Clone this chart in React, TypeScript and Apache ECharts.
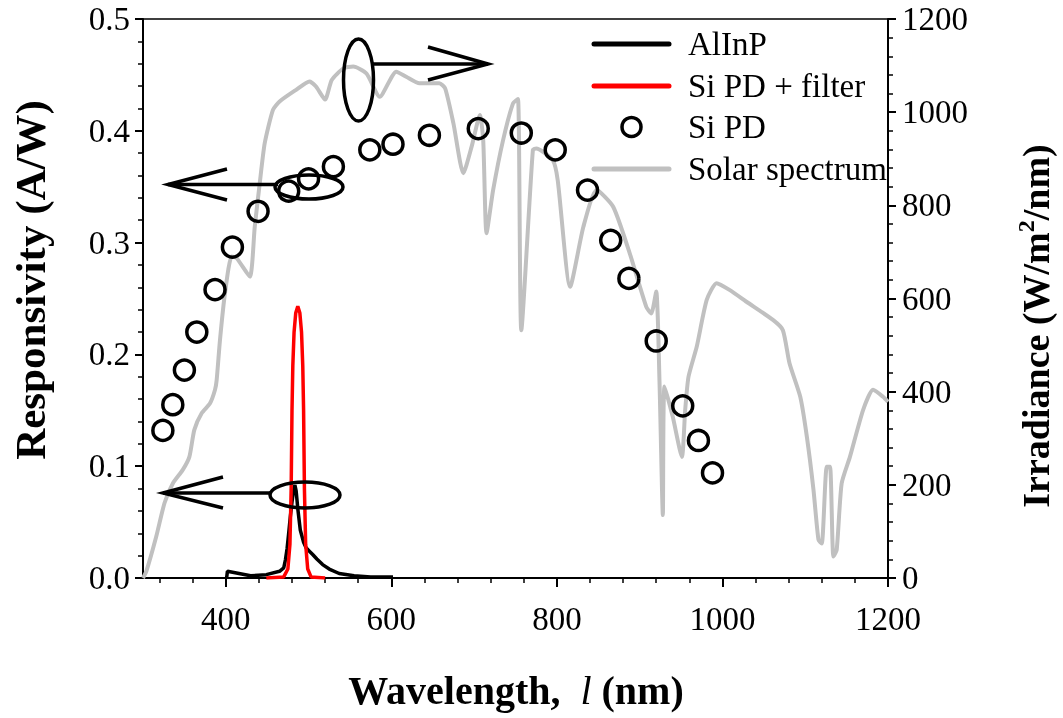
import React, { useEffect, useRef } from "react";
import * as echarts from "echarts";

const FONT = '"Liberation Serif", "Times New Roman", Times, serif';

// X axis ticks (nm)
const xMajorTicks = [400, 600, 800, 1000, 1200];
const xMinorTicks = [320, 360, 440, 480, 520, 560, 640, 680, 720, 760, 840, 880, 920, 960, 1040, 1080, 1120, 1160];

// AlInP responsivity (A/W)
const alinpWl = [401, 402, 430, 449, 465, 470, 472, 474, 476, 478, 480, 482, 483.5, 485, 487, 490, 494, 497, 501, 505, 510, 517, 525, 537, 555, 575, 602];
const alinpR = [0.0, 0.006, 0.002, 0.003, 0.006, 0.009, 0.016, 0.026, 0.04, 0.055, 0.068, 0.079, 0.083, 0.078, 0.062, 0.043, 0.032, 0.027, 0.024, 0.021, 0.017, 0.012, 0.008, 0.004, 0.002, 0.001, 0.001];

// Si PD + filter responsivity (A/W)
const filterWl = [449, 470, 475, 477.5, 479, 480, 481, 482.5, 484.5, 487, 489.5, 491.5, 493, 494, 495, 496.5, 499, 503, 520];
const filterR = [0.0, 0.001, 0.008, 0.03, 0.08, 0.15, 0.19, 0.22, 0.237, 0.243, 0.237, 0.22, 0.19, 0.15, 0.08, 0.03, 0.008, 0.001, 0.0];

// Si PD responsivity (A/W)
const siWl = [324, 336, 350, 365, 387, 408, 439, 476, 500, 530, 574, 602, 646, 705, 757, 798, 837, 865, 887, 920, 952, 971, 988];
const siR = [0.132, 0.155, 0.186, 0.220, 0.258, 0.296, 0.328, 0.346, 0.357, 0.368, 0.383, 0.388, 0.396, 0.402, 0.398, 0.383, 0.347, 0.302, 0.268, 0.212, 0.154, 0.123, 0.094];

// Solar spectrum irradiance (W/m^2/nm)
const solarWl = [300, 304, 316, 326, 336, 348, 356, 362, 371, 381, 387, 389, 393, 399, 407, 413, 429, 435, 441, 447, 457, 465, 485, 501, 509, 520, 528, 542, 554, 570, 586, 606, 618, 634, 658, 665, 675, 687, 697, 707, 711, 715, 723, 735, 747, 753, 757, 771, 775, 795, 801, 816, 832, 848, 868, 888, 908, 914, 920, 924, 928, 930, 940, 951, 955, 959, 969, 981, 993, 1009, 1029, 1061, 1073, 1081, 1094, 1102, 1110, 1116, 1120, 1126, 1130, 1134, 1138, 1144, 1154, 1170, 1182, 1194, 1200];
const solarIrr = [0, 14, 89, 161, 203, 232, 260, 318, 354, 375, 404, 425, 511, 611, 690, 687, 647, 754, 847, 933, 1005, 1023, 1048, 1066, 1055, 1027, 1069, 1094, 1098, 1083, 1033, 1087, 1076, 1062, 1062, 1051, 976, 869, 926, 994, 940, 740, 833, 940, 1019, 1028, 532, 919, 922, 897, 854, 625, 754, 833, 797, 697, 582, 568, 615, 419, 135, 411, 346, 260, 361, 432, 497, 597, 633, 618, 593, 554, 532, 461, 389, 303, 189, 82, 74, 239, 239, 46, 60, 203, 260, 361, 404, 389, 378];

const seriesNames = ["AlInP", "Si PD + filter", "Si PD", "Solar spectrum"];
const seriesColors = ["#000000", "#ff0000", "#000000", "#c0c0c0"];

const zip = (a: number[], b: number[]) => a.map((v, i) => [v, b[i]]);

export default function App() {
  const ref = useRef<HTMLDivElement>(null);
  useEffect(() => {
    if (!ref.current) return;
    const chart = echarts.init(ref.current, undefined, { renderer: "svg" });
    const axisLine = { show: true, onZero: false, lineStyle: { color: "#000", width: 2 } };
    const labelStyle = { color: "#000", fontFamily: FONT, fontSize: 33 };
    const stroke = { stroke: "#000", lineWidth: 3.5, fill: "none" };

    const legendY = [44, 86, 127, 169];
    const legendGraphics: any[] = [];
    seriesNames.forEach((name, i) => {
      if (i === 2) {
        legendGraphics.push({
          type: "circle",
          shape: { cx: 631.5, cy: legendY[i], r: 9.5 },
          style: { fill: "none", stroke: seriesColors[i], lineWidth: 3.5 },
        });
      } else {
        legendGraphics.push({
          type: "line",
          shape: { x1: 594, y1: legendY[i], x2: 669, y2: legendY[i] },
          style: { stroke: seriesColors[i], lineWidth: 5, lineCap: "round" },
        });
      }
      legendGraphics.push({
        type: "text",
        x: 688,
        y: legendY[i],
        style: { text: name, fill: "#000", font: `33px ${FONT}`, textAlign: "left", textVerticalAlign: "middle" },
      });
    });

    chart.setOption({
      animation: false,
      grid: { left: 143, right: 175, top: 19, bottom: 140, containLabel: false },
      xAxis: [
        {
          type: "value",
          min: 300,
          max: 1200,
          position: "bottom",
          axisLine,
          axisTick: { show: true, customValues: xMajorTicks, length: 9, lineStyle: { color: "#000", width: 2 } },
          axisLabel: { ...labelStyle, customValues: xMajorTicks, margin: 24, formatter: (v: number) => String(v) },
          splitLine: { show: false },
        },
        {
          type: "value",
          min: 300,
          max: 1200,
          position: "bottom",
          axisLine: { show: false },
          axisTick: { show: true, customValues: xMinorTicks, length: 5, lineStyle: { color: "#000", width: 1.5 } },
          axisLabel: { show: false },
          splitLine: { show: false },
        },
        {
          type: "value",
          min: 300,
          max: 1200,
          position: "top",
          axisLine: { show: true, onZero: false, lineStyle: { color: "#000", width: 1.5 } },
          axisTick: { show: false },
          axisLabel: { show: false },
          splitLine: { show: false },
        },
      ],
      yAxis: [
        {
          type: "value",
          min: 0,
          max: 0.5,
          interval: 0.1,
          position: "left",
          axisLine,
          axisTick: { show: true, length: 8, lineStyle: { color: "#000", width: 2 } },
          minorTick: { show: true, splitNumber: 5, length: 5, lineStyle: { color: "#000", width: 1.5 } },
          axisLabel: { ...labelStyle, margin: 13, formatter: (v: number) => v.toFixed(1) },
          splitLine: { show: false },
        },
        {
          type: "value",
          min: 0,
          max: 1200,
          interval: 200,
          position: "right",
          axisLine,
          axisTick: { show: true, length: 8, lineStyle: { color: "#000", width: 2 } },
          minorTick: { show: true, splitNumber: 5, length: 5, lineStyle: { color: "#000", width: 1.5 } },
          axisLabel: { ...labelStyle, margin: 14, formatter: (v: number) => String(v) },
          splitLine: { show: false },
        },
      ],
      series: [
        {
          name: seriesNames[3],
          type: "line",
          xAxisIndex: 0,
          yAxisIndex: 1,
          data: zip(solarWl, solarIrr),
          showSymbol: false,
          symbol: "none",
          smooth: 0.2,
          lineStyle: { color: seriesColors[3], width: 4 },
          z: 2,
        },
        {
          name: seriesNames[0],
          type: "line",
          xAxisIndex: 0,
          yAxisIndex: 0,
          data: zip(alinpWl, alinpR),
          showSymbol: false,
          symbol: "none",
          lineStyle: { color: seriesColors[0], width: 3.5 },
          z: 3,
        },
        {
          name: seriesNames[1],
          type: "line",
          xAxisIndex: 0,
          yAxisIndex: 0,
          data: zip(filterWl, filterR),
          showSymbol: false,
          symbol: "none",
          lineStyle: { color: seriesColors[1], width: 3.5 },
          z: 4,
        },
        {
          name: seriesNames[2],
          type: "scatter",
          xAxisIndex: 0,
          yAxisIndex: 0,
          data: zip(siWl, siR),
          symbol: "circle",
          symbolSize: 20,
          itemStyle: { color: "rgba(0,0,0,0)", borderColor: "#000", borderWidth: 3.5, opacity: 1 },
          z: 5,
        },
      ],
      graphic: [
        // annotations
        { type: "ellipse", shape: { cx: 309, cy: 187, rx: 34, ry: 12 }, style: stroke, z: 10 },
        { type: "line", shape: { x1: 278, y1: 184.5, x2: 168, y2: 184.5 }, style: stroke, z: 10 },
        { type: "polyline", shape: { points: [[227, 169], [168, 184.5], [227, 200]] }, style: stroke, z: 10 },
        { type: "ellipse", shape: { cx: 305, cy: 495, rx: 35, ry: 13 }, style: stroke, z: 10 },
        { type: "line", shape: { x1: 270, y1: 493, x2: 163, y2: 493 }, style: stroke, z: 10 },
        { type: "polyline", shape: { points: [[223, 477], [163, 493], [223, 508]] }, style: stroke, z: 10 },
        { type: "ellipse", shape: { cx: 358.5, cy: 80, rx: 15, ry: 41 }, style: stroke, z: 10 },
        { type: "line", shape: { x1: 373, y1: 64, x2: 488, y2: 64 }, style: stroke, z: 10 },
        { type: "polyline", shape: { points: [[428, 47], [488, 64], [428, 80]] }, style: stroke, z: 10 },
        ...legendGraphics,
        // axis titles
        {
          type: "text",
          x: 516,
          y: 690,
          style: {
            text: "{b|Wavelength,  }{i|l}{b| (nm)}",
            textAlign: "center",
            textVerticalAlign: "middle",
            rich: {
              b: { fontFamily: FONT, fontWeight: "bold", fontSize: 40, fill: "#000" },
              i: { fontFamily: FONT, fontStyle: "italic", fontSize: 40, fill: "#000" },
            },
          },
        },
        {
          type: "text",
          x: 30,
          y: 280,
          rotation: Math.PI / 2,
          style: {
            text: "Responsivity (A/W)",
            fill: "#000",
            font: `bold 43px ${FONT}`,
            textAlign: "center",
            textVerticalAlign: "middle",
          },
        },
        {
          type: "text",
          x: 1036,
          y: 326,
          rotation: Math.PI / 2,
          style: {
            text: "{b|Irradiance (W/m}{s|2}{b|/nm)}",
            textAlign: "center",
            textVerticalAlign: "middle",
            rich: {
              b: { fontFamily: FONT, fontWeight: "bold", fontSize: 38, fill: "#000", lineHeight: 44 },
              s: { fontFamily: FONT, fontWeight: "bold", fontSize: 24, fill: "#000", verticalAlign: "top", lineHeight: 44 },
            },
          },
        },
      ],
    });
    return () => chart.dispose();
  }, []);
  return <div ref={ref} style={{ position: "fixed", left: 0, top: 0, width: 1063, height: 718 }} />;
}
